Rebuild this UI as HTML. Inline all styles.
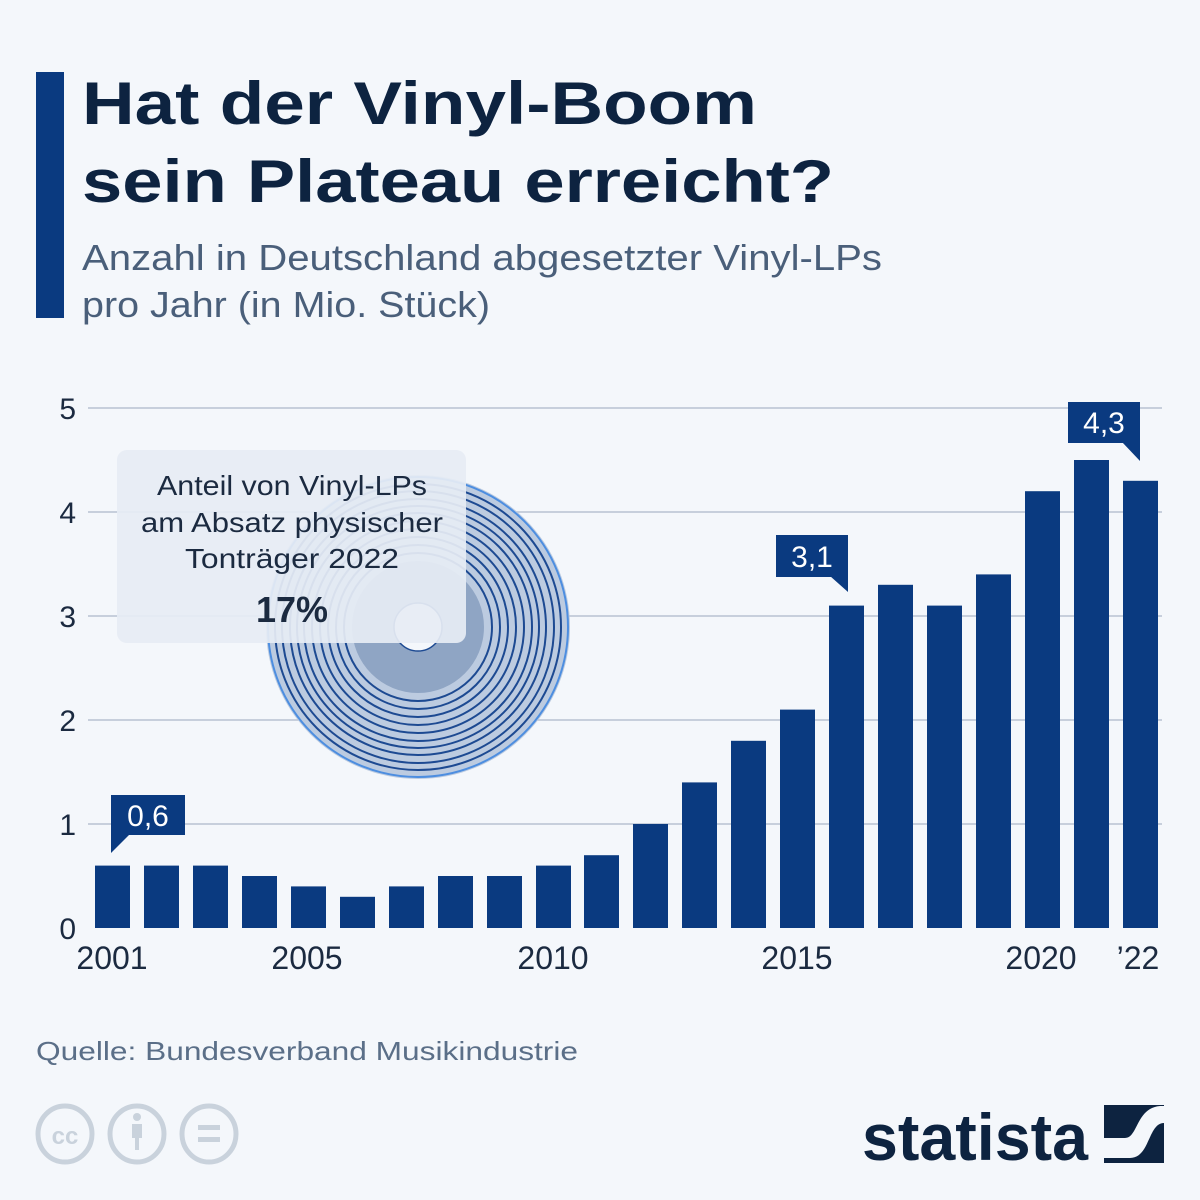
<!DOCTYPE html>
<html><head><meta charset="utf-8"><style>
html,body{margin:0;padding:0;background:#f4f7fb;}
svg{display:block;font-family:"Liberation Sans",sans-serif;}
</style></head><body>
<svg width="1200" height="1200" viewBox="0 0 1200 1200" xmlns="http://www.w3.org/2000/svg">
<rect width="1200" height="1200" fill="#f4f7fb"/>
<rect x="36" y="72" width="28" height="246" fill="#0a3a80"/>
<text x="82" y="124" font-size="60" font-weight="bold" fill="#0d2340" textLength="675" lengthAdjust="spacingAndGlyphs">Hat der Vinyl-Boom</text>
<text x="82" y="202" font-size="60" font-weight="bold" fill="#0d2340" textLength="752" lengthAdjust="spacingAndGlyphs">sein Plateau erreicht?</text>
<text x="82" y="270" font-size="36" fill="#4a5f7a" textLength="800" lengthAdjust="spacingAndGlyphs">Anzahl in Deutschland abgesetzter Vinyl-LPs</text>
<text x="82" y="317" font-size="36" fill="#4a5f7a" textLength="408" lengthAdjust="spacingAndGlyphs">pro Jahr (in Mio. Stück)</text>

<g stroke="#b8c2d2" stroke-width="1.5">
<line x1="88" y1="408" x2="1162" y2="408"/>
<line x1="88" y1="512" x2="1162" y2="512"/>
<line x1="88" y1="616" x2="1162" y2="616"/>
<line x1="88" y1="720" x2="1162" y2="720"/>
<line x1="88" y1="824" x2="1162" y2="824"/>
</g>
<g font-size="30" fill="#1b2a40" text-anchor="end">
<text x="76" y="419">5</text><text x="76" y="523">4</text><text x="76" y="627">3</text>
<text x="76" y="731">2</text><text x="76" y="835">1</text><text x="76" y="939">0</text>
</g>

<g>
<circle cx="418" cy="627" r="152" fill="#bccbe0"/>
<g fill="none" stroke="#1d4a92" stroke-width="2">
<circle cx="418" cy="627" r="150" stroke="#4d8ee0"/>
<circle cx="418" cy="627" r="143"/><circle cx="418" cy="627" r="136"/>
<circle cx="418" cy="627" r="128"/><circle cx="418" cy="627" r="121"/>
<circle cx="418" cy="627" r="114"/><circle cx="418" cy="627" r="106"/>
<circle cx="418" cy="627" r="98"/><circle cx="418" cy="627" r="90"/>
<circle cx="418" cy="627" r="82"/><circle cx="418" cy="627" r="74"/>
</g>
<circle cx="418" cy="627" r="66" fill="#8fa5c4"/>
<circle cx="418" cy="627" r="24" fill="#f4f7fb" stroke="#1d4a92" stroke-width="1.5"/>
</g>
<rect x="117" y="450" width="349" height="193" rx="10" fill="#e6ecf4" fill-opacity="0.93"/>
<g text-anchor="middle" fill="#1b2a40">
<text x="292" y="495" font-size="28" textLength="270" lengthAdjust="spacingAndGlyphs">Anteil von Vinyl-LPs</text>
<text x="292" y="532" font-size="28" textLength="302" lengthAdjust="spacingAndGlyphs">am Absatz physischer</text>
<text x="292" y="568" font-size="28" textLength="214" lengthAdjust="spacingAndGlyphs">Tonträger 2022</text>
<text x="292" y="622" font-size="36" font-weight="bold">17%</text>
</g>

<g fill="#0a3a80">
<rect x="95" y="865.6" width="35" height="62.4"/>
<rect x="144" y="865.6" width="35" height="62.4"/>
<rect x="193" y="865.6" width="35" height="62.4"/>
<rect x="242" y="876" width="35" height="52"/>
<rect x="291" y="886.4" width="35" height="41.6"/>
<rect x="340" y="896.8" width="35" height="31.2"/>
<rect x="389" y="886.4" width="35" height="41.6"/>
<rect x="438" y="876" width="35" height="52"/>
<rect x="487" y="876" width="35" height="52"/>
<rect x="536" y="865.6" width="35" height="62.4"/>
<rect x="584" y="855.2" width="35" height="72.8"/>
<rect x="633" y="824" width="35" height="104"/>
<rect x="682" y="782.4" width="35" height="145.6"/>
<rect x="731" y="740.8" width="35" height="187.2"/>
<rect x="780" y="709.6" width="35" height="218.4"/>
<rect x="829" y="605.6" width="35" height="322.4"/>
<rect x="878" y="584.8" width="35" height="343.2"/>
<rect x="927" y="605.6" width="35" height="322.4"/>
<rect x="976" y="574.4" width="35" height="353.6"/>
<rect x="1025" y="491.2" width="35" height="436.8"/>
<rect x="1074" y="460" width="35" height="468"/>
<rect x="1123" y="480.8" width="35" height="447.2"/>
</g>

<g fill="#0a3a80">
<rect x="111" y="795" width="74" height="40"/><polygon points="111,834 130,834 111,853"/>
<rect x="776" y="535" width="72" height="42"/><polygon points="830,576 848,576 848,592"/>
<rect x="1068" y="402" width="72" height="41"/><polygon points="1122,442 1140,442 1140,461"/>
</g>
<g fill="#fff" font-size="30" text-anchor="middle">
<text x="148" y="826">0,6</text>
<text x="812" y="567">3,1</text>
<text x="1104" y="433">4,3</text>
</g>

<g font-size="32" fill="#1b2a40" text-anchor="middle">
<text x="112" y="969">2001</text>
<text x="307" y="969">2005</text>
<text x="553" y="969">2010</text>
<text x="797" y="969">2015</text>
<text x="1041" y="969">2020</text>
<text x="1138" y="969">’22</text>
</g>

<text x="36" y="1060" font-size="26" fill="#5b6f88" textLength="542" lengthAdjust="spacingAndGlyphs">Quelle: Bundesverband Musikindustrie</text>

<g fill="none" stroke="#c9d2dc" stroke-width="5">
<ellipse cx="65" cy="1134" rx="27" ry="28"/>
<ellipse cx="137" cy="1134" rx="27" ry="28"/>
<ellipse cx="209" cy="1134" rx="27" ry="28"/>
</g>
<text x="65" y="1144" font-size="24" font-weight="bold" fill="#c9d2dc" text-anchor="middle">cc</text>
<circle cx="137" cy="1117" r="4" fill="#c9d2dc"/>
<rect x="132" y="1124" width="10" height="14" fill="#c9d2dc"/><rect x="135" y="1136" width="4" height="14" fill="#c9d2dc"/>
<rect x="198" y="1125" width="22" height="5" fill="#c9d2dc"/><rect x="198" y="1137" width="22" height="5" fill="#c9d2dc"/>

<text x="862" y="1160" font-size="66" font-weight="bold" fill="#0d2340" textLength="226" lengthAdjust="spacingAndGlyphs">statista</text>
<rect x="1104" y="1105" width="60" height="58" fill="#0d2340"/>
<path d="M1104,1140 L1125,1140 C1138,1140 1136,1110 1160,1108 L1164,1108 L1164,1125 C1148,1125 1150,1160 1130,1160 L1104,1160 Z" fill="#f4f7fb" transform="translate(0,-2)"/>
</svg>
</body></html>
